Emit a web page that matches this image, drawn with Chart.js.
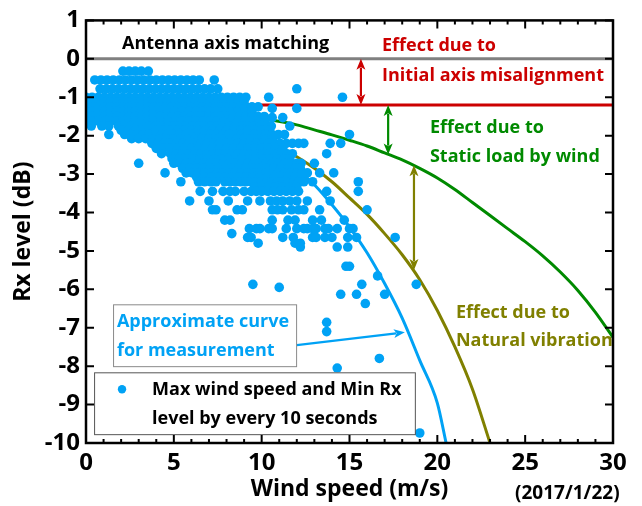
<!DOCTYPE html>
<html>
<head>
<meta charset="utf-8">
<script src="https://cdn.jsdelivr.net/npm/chart.js@4.4.0/dist/chart.umd.min.js"></script>
<style>
  html, body { margin: 0; padding: 0; background: #fff; }
  #wrap { width: 642px; height: 506px; }
</style>
</head>
<body>
<div id="wrap"><canvas id="chart" width="642" height="506"></canvas></div>
<script>
// Max wind speed / min Rx level every 10 s, grouped by Rx level row: [rx, [wind speeds]]
const scatterRows = [
  [-0.32, [2.1, 2.45, 2.8, 3.15, 3.55]],
  [-0.55, [0.5, 0.85, 1.2, 1.55, 1.9, 2.25, 2.6, 2.95, 3.3, 3.65, 4.0, 4.35, 4.7, 5.05, 5.4, 5.75, 6.1, 6.45, 7.3]],
  [-0.78, [0.8, 1.15, 1.5, 1.85, 2.2, 2.55, 2.9, 3.25, 3.6, 3.95, 4.3, 4.65, 5.0, 5.35, 5.7, 6.05, 6.4, 6.75, 7.1, 7.5, 12.0]],
  [-1.0, [0, 0.35, 0.7, 1.05, 1.4, 1.75, 2.1, 2.45, 2.8, 3.15, 3.5, 3.85, 4.2, 4.55, 4.9, 5.25, 5.6, 5.95, 6.3, 6.65, 7.0, 7.35, 7.7, 8.05, 8.4, 8.75, 9.1, 10.4, 14.6]],
  [-1.12, [0, 0.35, 0.7, 1.05, 1.4, 1.75, 2.1, 2.45, 2.8, 3.15, 3.5, 3.85, 4.25, 4.65, 5.05, 5.45, 5.85, 6.25, 6.65, 7.05, 7.45, 7.85, 8.25, 8.65, 9.0]],
  [-1.25, [0, 0.35, 0.7, 1.05, 1.4, 1.75, 2.1, 2.45, 2.8, 3.15, 3.5, 3.85, 4.2, 4.55, 4.9, 5.25, 5.6, 5.95, 6.3, 6.65, 7.0, 7.35, 7.7, 8.05, 8.4, 8.75, 9.1, 9.45, 9.8]],
  [-1.29, [10.6, 12.0]],
  [-1.37, [0, 0.35, 0.7, 1.05, 1.4, 1.75, 2.1, 2.45, 2.8, 3.15, 3.5, 3.85, 4.25, 4.65, 5.05, 5.45, 5.85, 6.25, 6.65, 7.05, 7.45, 7.85, 8.25, 8.65, 9.05, 9.45]],
  [-1.5, [0, 0.35, 0.7, 1.05, 1.4, 1.75, 2.1, 2.45, 2.8, 3.15, 3.5, 3.85, 4.2, 4.55, 4.9, 5.25, 5.6, 5.95, 6.3, 6.65, 7.0, 7.35, 7.7, 8.05, 8.4, 8.75, 9.1, 9.45, 9.8, 10.15]],
  [-1.53, [10.6, 11.2]],
  [-1.62, [0, 0.35, 0.7, 1.05, 1.4, 1.75, 2.1, 2.45, 2.8, 3.15, 3.5, 3.85, 4.25, 4.65, 5.05, 5.45, 5.85, 6.25, 6.65, 7.05, 7.45, 7.85, 8.25, 8.65, 9.05, 9.45, 9.85, 10.2]],
  [-1.75, [0.3, 0.9, 1.3, 1.85, 2.2, 2.55, 2.9, 3.25, 3.6, 3.95, 4.3, 4.65, 5.0, 5.35, 5.7, 6.05, 6.4, 6.75, 7.1, 7.45, 7.8, 8.15, 8.5, 8.85, 9.2, 9.55, 9.9, 10.25, 10.55, 11.6]],
  [-1.86, [2.0, 2.4, 2.8, 3.2, 3.6, 4.0, 4.4, 4.8, 5.2, 5.6, 6.0, 6.4, 6.8, 7.2, 7.6, 8.0, 8.4, 8.8, 9.2, 9.6, 10.0, 10.4]],
  [-1.97, [1.3, 2.2, 2.55, 2.9, 3.25, 3.6, 3.95, 4.3, 4.65, 5.0, 5.35, 5.7, 6.05, 6.4, 6.75, 7.1, 7.45, 7.8, 8.15, 8.5, 8.85, 9.2, 9.55, 9.9, 10.25, 10.6, 10.95, 11.3, 15.0]],
  [-2.08, [2.6, 3.0, 3.4, 3.8, 4.2, 4.6, 5.0, 5.4, 5.8, 6.2, 6.6, 7.0, 7.4, 7.8, 8.2, 8.6, 9.0, 9.4, 9.8, 10.2, 10.6]],
  [-2.2, [3.75, 4.1, 4.45, 4.8, 5.15, 5.5, 5.85, 6.2, 6.55, 6.9, 7.25, 7.6, 7.95, 8.3, 8.65, 9.0, 9.35, 9.7, 10.05, 10.4, 10.75, 11.05, 11.4, 11.75, 12.1, 12.4, 13.9, 14.5]],
  [-2.33, [4.0, 4.4, 4.8, 5.2, 5.6, 6.0, 6.4, 6.8, 7.2, 7.6, 8.0, 8.4, 8.8, 9.2, 9.6, 10.0, 10.4, 10.8, 11.2]],
  [-2.47, [4.3, 4.8, 5.15, 5.5, 5.85, 6.2, 6.55, 6.9, 7.25, 7.6, 7.95, 8.3, 8.65, 9.0, 9.35, 9.7, 10.05, 10.4, 10.75, 11.1, 11.45, 11.75, 13.7]],
  [-2.6, [4.9, 5.3, 5.7, 6.1, 6.5, 6.9, 7.3, 7.7, 8.1, 8.5, 8.9, 9.3, 9.7, 10.1, 10.5, 10.9, 11.3, 11.6]],
  [-2.72, [3.0, 5.0, 5.35, 5.7, 6.05, 6.4, 6.75, 7.1, 7.45, 7.8, 8.15, 8.5, 8.85, 9.2, 9.55, 9.9, 10.25, 10.6, 10.95, 11.3, 11.65, 12.0, 12.25, 13.0]],
  [-2.85, [5.5, 5.9, 6.3, 6.7, 7.1, 7.5, 7.9, 8.3, 8.7, 9.1, 9.5, 9.9, 10.3, 10.7, 11.1, 11.5, 11.9, 12.2]],
  [-2.97, [4.5, 5.7, 6.05, 6.4, 6.75, 7.1, 7.45, 7.8, 8.15, 8.5, 8.85, 9.2, 9.55, 9.9, 10.25, 10.6, 10.95, 11.3, 11.65, 12.0, 12.3, 12.6, 13.3, 14.1]],
  [-3.08, [6.3, 6.7, 7.1, 7.5, 7.9, 8.3, 8.7, 9.1, 9.5, 9.9, 10.3, 10.7, 11.1, 11.5, 11.9, 12.3]],
  [-3.2, [5.4, 6.4, 6.75, 7.1, 7.4, 7.9, 8.2, 8.5, 8.8, 9.1, 9.4, 9.7, 10.0, 10.3, 10.6, 10.9, 11.2, 11.5, 11.8, 12.1, 12.4, 12.9, 15.5]],
  [-3.33, [9.6, 10.0, 10.4, 10.8, 11.2, 11.6, 12.0]],
  [-3.45, [6.5, 7.2, 7.8, 8.2, 8.5, 9.0, 9.4, 9.7, 10.0, 10.35, 10.7, 11.05, 11.4, 11.75, 12.1, 13.7, 15.5]],
  [-3.7, [5.9, 7.0, 8.1, 9.2, 9.9, 10.5, 10.85, 11.2, 11.6, 12.0, 12.6, 13.9]],
  [-3.93, [7.2, 7.4, 8.6, 8.9, 10.6, 10.9, 11.2, 11.7, 12.1, 12.4, 13.3, 16.0]],
  [-4.2, [7.9, 8.2, 10.6, 11.5, 11.9, 12.9, 13.4, 14.7]],
  [-4.42, [9.3, 9.7, 9.9, 10.4, 10.6, 11.4, 12.0, 12.4, 12.6, 12.9, 13.1, 13.6, 13.8, 14.3, 15.0, 15.2]],
  [-4.55, [8.3]],
  [-4.65, [9.2, 9.4, 11.2, 11.8, 12.9, 13.1, 13.6, 14.0, 14.9, 15.4, 17.6]],
  [-4.8, [9.8, 11.9, 12.2]],
  [-4.9, [12.2, 14.3, 14.9]],
  [-5.4, [14.8, 15.0]],
  [-5.65, [16.6]],
  [-5.87, [9.5, 15.7, 18.8]],
  [-5.95, [11.0]],
  [-6.13, [14.5, 15.4, 17.0]],
  [-6.37, [15.9]],
  [-6.86, [13.7]],
  [-7.1, [13.7]],
  [-7.8, [16.7]],
  [-8.05, [14.3]],
  [-9.74, [19.0]]
];

// fitted curves [wind speed, Rx level]
const measuredCurve = [[10, -2.2], [11, -2.5], [12, -2.85], [13, -3.28], [14, -3.8], [15, -4.38], [16, -5.05], [17, -5.85], [18, -6.75], [19, -7.85], [20, -8.96], [20.5, -10]];
const vibrationCurve = [[8, -1.75], [9, -1.9], [10, -2.05], [11, -2.3], [12, -2.55], [13, -2.85], [14, -3.2], [15, -3.62], [16, -4.05], [17, -4.55], [18, -5.1], [19, -5.75], [20, -6.55], [21, -7.5], [22, -8.6], [23, -10]];
const staticLoadCurve = [[7, -1.38], [8, -1.4], [10, -1.55], [12, -1.72], [13, -1.85], [14, -1.98], [15, -2.12], [16, -2.27], [17, -2.45], [18, -2.63], [19, -2.85], [20, -3.1], [21, -3.4], [22, -3.74], [23, -4.08], [24, -4.42], [25, -4.76], [26, -5.13], [27, -5.55], [28, -6.03], [29, -6.6], [30, -7.25]];
const matchingLine = [[0, 0], [30, 0]];
const misalignLine = [[0, -1.2], [30, -1.2]];

const BLUE = '#00a2f5', GREEN = '#008a00', OLIVE = '#808000', RED = '#cc0000', GRAY = '#808080';
const FONT = '"Open Sans", "DejaVu Sans", sans-serif';

// arrows between levels, in data units
const arrows = [
  { from: [15.65, 0], to: [15.65, -1.2], color: RED, both: true },
  { from: [17.2, -1.2], to: [17.2, -2.49], color: GREEN, both: true },
  { from: [18.67, -2.77], to: [18.67, -5.5], color: OLIVE, both: true },
  { from: [12.0, -7.45], to: [18.15, -7.12], color: BLUE, both: false }
];

// text labels: [text, x, y, colour]
const labels = [
  ['Antenna axis matching', 2.05, 0.38, '#000'],
  ['Effect due to', 16.85, 0.33, RED],
  ['Initial axis misalignment', 16.85, -0.45, RED],
  ['Effect due to', 19.58, -1.8, GREEN],
  ['Static load by wind', 19.58, -2.55, GREEN],
  ['Effect due to', 21.06, -6.6, OLIVE],
  ['Natural vibration', 21.06, -7.33, OLIVE],
  ['Approximate curve', 1.76, -6.86, BLUE],
  ['for measurement', 1.76, -7.59, BLUE],
  ['Max wind speed and Min Rx', 3.76, -8.62, '#000'],
  ['level by every 10 seconds', 3.76, -9.38, '#000']
];
const curveBox = [1.54, -6.39, 11.96, -8.0];
const legendBox = [0.46, -8.16, 18.72, -9.77];
const legendDot = [2.05, -8.6];

const toXY = arr => arr.map(p => ({ x: p[0], y: p[1] }));
const scatterPoints = [];
scatterRows.forEach(([rx, speeds]) => speeds.forEach(s => scatterPoints.push({ x: s, y: rx })));

function drawArrow(ctx, x1, y1, x2, y2, color, both) {
  const head = 11, half = 4.5;
  const ang = Math.atan2(y2 - y1, x2 - x1);
  ctx.strokeStyle = color; ctx.fillStyle = color; ctx.lineWidth = 2.2;
  const sx = both ? x1 + Math.cos(ang) * head * 0.8 : x1, sy = both ? y1 + Math.sin(ang) * head * 0.8 : y1;
  ctx.beginPath(); ctx.moveTo(sx, sy);
  ctx.lineTo(x2 - Math.cos(ang) * head * 0.8, y2 - Math.sin(ang) * head * 0.8); ctx.stroke();
  const tip = (tx, ty, a) => {
    ctx.beginPath();
    ctx.moveTo(tx, ty);
    ctx.lineTo(tx - Math.cos(a) * head - Math.sin(a) * half, ty - Math.sin(a) * head + Math.cos(a) * half);
    ctx.lineTo(tx - Math.cos(a) * head * 0.75, ty - Math.sin(a) * head * 0.75);
    ctx.lineTo(tx - Math.cos(a) * head + Math.sin(a) * half, ty - Math.sin(a) * head - Math.cos(a) * half);
    ctx.closePath(); ctx.fill();
  };
  tip(x2, y2, ang);
  if (both) tip(x1, y1, ang + Math.PI);
}

const overlay = {
  id: 'overlay',
  afterDatasetsDraw(chart) {
    const { ctx, chartArea: a, scales: { x, y } } = chart;
    const px = v => x.getPixelForValue(v), py = v => y.getPixelForValue(v);
    ctx.save();

    arrows.forEach(ar => drawArrow(ctx, px(ar.from[0]), py(ar.from[1]), px(ar.to[0]), py(ar.to[1]), ar.color, ar.both));

    // boxes
    ctx.lineWidth = 1;
    ctx.fillStyle = '#fff';
    ctx.strokeStyle = '#8a8a8a';
    let bx = px(curveBox[0]), by = py(curveBox[1]), bw = px(curveBox[2]) - bx, bh = py(curveBox[3]) - by;
    ctx.fillRect(bx, by, bw, bh); ctx.strokeRect(bx + 0.5, by + 0.5, bw, bh);
    ctx.strokeStyle = '#555';
    bx = px(legendBox[0]); by = py(legendBox[1]); bw = px(legendBox[2]) - bx; bh = py(legendBox[3]) - by;
    ctx.fillRect(bx, by, bw, bh); ctx.strokeRect(bx + 0.5, by + 0.5, bw, bh);
    ctx.fillStyle = BLUE;
    ctx.beginPath(); ctx.arc(px(legendDot[0]), py(legendDot[1]), 4.2, 0, Math.PI * 2); ctx.fill();

    // texts
    ctx.font = 'bold 18px ' + FONT;
    ctx.textBaseline = 'middle'; ctx.textAlign = 'left';
    labels.forEach(([t, lx, ly, c]) => { ctx.fillStyle = c; ctx.fillText(t, px(lx), py(ly)); });

    ctx.fillStyle = '#000';
    ctx.font = 'bold 19px ' + FONT;
    ctx.textAlign = 'center';
    ctx.fillText('(2017/1/22)', px(27.4), a.bottom + 51);

    // frame and inward ticks
    ctx.strokeStyle = '#000'; ctx.lineWidth = 2.5;
    ctx.strokeRect(a.left, a.top, a.right - a.left, a.bottom - a.top);
    ctx.lineWidth = 2;
    ctx.beginPath();
    for (let v = 0; v <= 30; v++) {
      const len = v % 5 === 0 ? 8 : 4, X = px(v);
      ctx.moveTo(X, a.bottom); ctx.lineTo(X, a.bottom - len);
      ctx.moveTo(X, a.top); ctx.lineTo(X, a.top + len);
    }
    for (let v = -10; v <= 1; v++) {
      const Y = py(v);
      ctx.moveTo(a.left, Y); ctx.lineTo(a.left + 8, Y);
      ctx.moveTo(a.right, Y); ctx.lineTo(a.right - 8, Y);
    }
    ctx.stroke();
    ctx.restore();
  }
};

Chart.defaults.font.family = FONT;
Chart.defaults.color = '#000';

const lineSet = (data, color, width) => ({
  data: toXY(data), showLine: true, borderColor: color, borderWidth: width,
  pointRadius: 0, fill: false, cubicInterpolationMode: 'monotone'
});

new Chart(document.getElementById('chart'), {
  type: 'scatter',
  data: {
    datasets: [
      { data: scatterPoints, pointRadius: 4.8, pointBackgroundColor: BLUE, pointBorderWidth: 0, showLine: false },
      lineSet(measuredCurve, BLUE, 3),
      lineSet(vibrationCurve, OLIVE, 3),
      lineSet(staticLoadCurve, GREEN, 3),
      lineSet(misalignLine, RED, 3),
      lineSet(matchingLine, GRAY, 3)
    ]
  },
  options: {
    responsive: false,
    animation: false,
    devicePixelRatio: 1,
    layout: { padding: { top: 19, right: 29, left: 0, bottom: 0 } },
    plugins: { legend: { display: false }, tooltip: { enabled: false } },
    scales: {
      x: {
        type: 'linear', min: 0, max: 30,
        afterFit: s => { s.height = 63; },
        ticks: { stepSize: 5, autoSkip: false, maxRotation: 0, padding: 6, font: { size: 24, weight: 'bold' } },
        grid: { display: false, drawTicks: false },
        border: { display: false },
        title: { display: true, text: 'Wind speed (m/s)', font: { size: 23, weight: 'bold' }, padding: { top: 0, bottom: 3 } }
      },
      y: {
        type: 'linear', min: -10, max: 1,
        afterFit: s => { s.width = 86; },
        ticks: { stepSize: 1, autoSkip: false, padding: 6, font: { size: 24, weight: 'bold' } },
        grid: { display: false, drawTicks: false },
        border: { display: false },
        title: { display: true, text: 'Rx level (dB)', font: { size: 23, weight: 'bold' }, padding: { top: 10, bottom: 0 } }
      }
    }
  },
  plugins: [overlay]
});
</script>
</body>
</html>
